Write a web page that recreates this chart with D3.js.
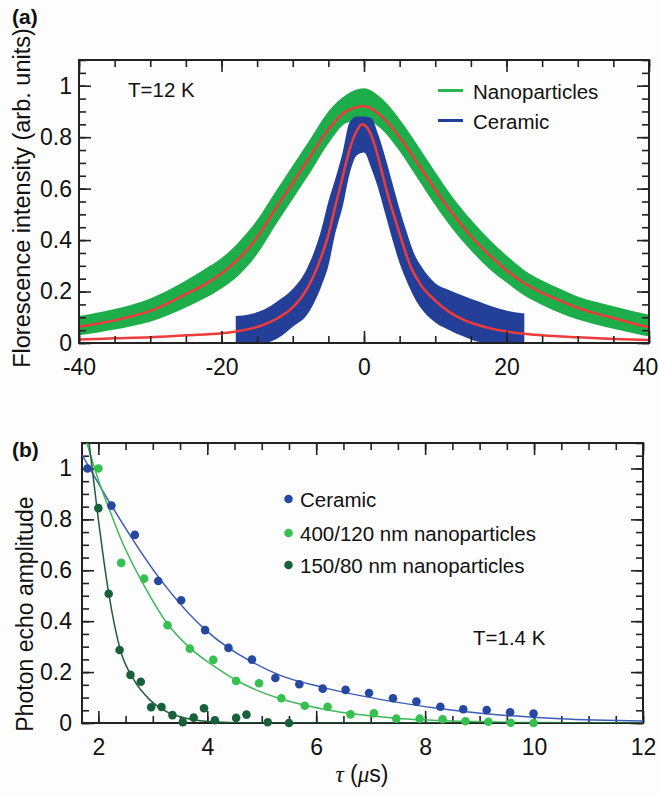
<!DOCTYPE html>
<html>
<head>
<meta charset="utf-8">
<script src="https://cdn.jsdelivr.net/npm/d3@7"></script>
<style>
  body { margin: 0; background: #fdfdfd; }
  svg { display: block; font-family: "Liberation Sans", Arial, sans-serif; }
</style>
</head>
<body>
<div id="chart"></div>
<script>
// ---------- panel (a) : fluorescence spectra ----------
const nanoX    = [-40,-37.5,-35,-32.5,-30,-27.5,-25,-22.5,-20,-17.5,-15,-12.5,-10,-7.5,-5,-2.5,0,2.5,5,7.5,10,12.5,15,17.5,20,22.5,25,27.5,30,32.5,35,37.5,40];
const nanoLow  = [.030,.040,.052,.066,.083,.108,.138,.172,.212,.265,.345,.455,.56,.665,.775,.855,.87,.83,.745,.64,.535,.44,.36,.29,.235,.185,.148,.117,.091,.072,.055,.04,.025];
const nanoHigh = [.105,.118,.132,.150,.173,.205,.243,.285,.33,.395,.478,.585,.69,.795,.90,.965,.99,.95,.87,.77,.665,.565,.48,.405,.34,.283,.243,.211,.181,.16,.143,.125,.11];
const nanoFit  = [.063,.075,.088,.105,.125,.155,.19,.225,.27,.33,.41,.518,.622,.727,.83,.90,.92,.88,.80,.70,.597,.50,.415,.345,.283,.232,.195,.165,.137,.115,.097,.078,.06];

const cerX    = [-18,-16,-14,-12,-10,-8,-6,-5,-4,-3,-2,-1,0,1,2,3,4,5,6,7,8,10,12,14,16,18,20,22.5];
const cerLow  = [0,0,0,.02,.063,.11,.22,.30,.43,.53,.66,.73,.74,.68,.60,.50,.40,.31,.24,.18,.135,.08,.05,.025,.005,0,0,0];
const cerHigh = [.105,.112,.13,.165,.21,.29,.44,.55,.64,.74,.86,.88,.88,.875,.81,.72,.62,.52,.43,.35,.30,.232,.205,.183,.162,.142,.126,.115];

const cerFitX = [-40,-35,-30,-25,-20,-18,-16,-14,-12,-10,-8,-6,-5,-4,-3,-2,-1,-0.3,0.5,1.5,2.5,3.5,4.5,5.5,6.5,8,10,12,14,16,18,20,25,30,35,40];
const cerFitY = [.014,.018,.022,.03,.038,.045,.055,.072,.098,.138,.21,.335,.42,.535,.645,.755,.825,.85,.835,.77,.665,.56,.47,.38,.30,.225,.165,.12,.09,.07,.055,.045,.03,.022,.016,.012];

const xTicksA = [-40,-20,0,20,40];
const yTicks  = [0,0.2,0.4,0.6,0.8,1];

// ---------- panel (b) : photon echo decay ----------
const cerTau  = [1.8,2.24,2.67,3.1,3.52,3.96,4.39,4.82,5.25,5.69,6.12,6.54,6.97,7.41,7.84,8.28,8.70,9.13,9.56,9.99];
const cerAmp  = [1.0,.854,.739,.558,.482,.365,.295,.249,.177,.152,.135,.130,.118,.097,.084,.064,.054,.051,.042,.037];
const n400Tau = [2.0,2.42,2.84,3.27,3.68,4.11,4.53,4.95,5.36,5.79,6.21,6.63,7.06,7.47,7.90,8.32,8.74,9.16,9.57,9.99];
const n400Amp = [1.0,.629,.567,.384,.292,.248,.165,.156,.097,.068,.064,.034,.038,.017,.017,.015,.007,.005,.001,0];
const n150Tau = [2.0,2.19,2.39,2.59,2.78,2.97,3.16,3.36,3.55,3.75,3.94,4.14,4.53,4.72,5.11,5.50];
const n150Amp = [.844,.508,.287,.189,.162,.062,.063,.031,.003,.021,.058,.011,.020,.033,.003,0];

const cerFitTau  = [1.7,2.24,3.1,3.96,4.39,4.82,5.34,6.12,7.41,8.7,10.48,12];
const cerFitAmp  = [1.054,.855,.575,.367,.295,.24,.187,.14,.084,.045,.017,.008];
const n400FitTau = [1.79,2.0,2.2,2.42,2.84,3.27,3.68,4.11,4.53,4.95,5.36,6.21,7.47,8.7,10,12];
const n400FitAmp = [1.1,.955,.84,.72,.54,.39,.295,.225,.168,.125,.094,.051,.019,.007,.002,0];
const n150FitTau = [1.83,2.0,2.19,2.4,2.65,2.95,3.26,3.63,4.18,5,12];
const n150FitAmp = [1.1,.80,.51,.29,.17,.09,.044,.018,.004,0,0];

const xTicksB = [2,4,6,8,10,12];

const W = 660, H = 795;
const svg = d3.select("#chart").append("svg").attr("width", W).attr("height", H);
svg.append("rect").attr("width", W).attr("height", H).attr("fill", "#fdfdfd");

const defs = svg.append("defs");

// ticks on all four sides, pointing inward
function drawFrame(x, y, xMajor, xMinor, yMajor, yMinor, yPad, id) {
  const [x0, x1] = x.range();
  const [yb, yt] = y.range();
  const g = svg.append("g").attr("class", "axes");

  const bottom = g.append("g").attr("transform", `translate(0,${yb})`);
  bottom.append("g").call(d3.axisBottom(x).tickValues(xMinor).tickSize(-7).tickFormat(""));
  bottom.append("g").attr("class", "xlab")
    .call(d3.axisBottom(x).tickValues(xMajor).tickSize(-12).tickPadding(16).tickFormat(d => String(d)));

  const top = g.append("g").attr("transform", `translate(0,${yt})`);
  top.append("g").call(d3.axisTop(x).tickValues(xMinor).tickSize(-7).tickFormat(""));
  top.append("g").call(d3.axisTop(x).tickValues(xMajor).tickSize(-12).tickFormat(""));

  const left = g.append("g").attr("transform", `translate(${x0},0)`);
  left.append("g").call(d3.axisLeft(y).tickValues(yMinor).tickSize(-7).tickFormat(""));
  left.append("g").call(d3.axisLeft(y).tickValues(yMajor).tickSize(-12).tickPadding(yPad).tickFormat(d => String(d)));

  const right = g.append("g").attr("transform", `translate(${x1},0)`);
  right.append("g").call(d3.axisRight(y).tickValues(yMinor).tickSize(-7).tickFormat(""));
  right.append("g").call(d3.axisRight(y).tickValues(yMajor).tickSize(-12).tickFormat(""));

  g.selectAll(".domain").remove();
  g.selectAll(".tick line").attr("stroke", "#222").attr("stroke-width", 1.6);
  g.selectAll(".tick text").attr("fill", "#111").style("font-size", "23px")
    .style("font-family", "'Liberation Sans', Arial, sans-serif");

  g.append("rect")
    .attr("x", x0).attr("y", yt).attr("width", x1 - x0).attr("height", yb - yt)
    .attr("fill", "none").attr("stroke", "#222").attr("stroke-width", 2);

  defs.append("clipPath").attr("id", id).append("rect")
    .attr("x", x0).attr("y", yt).attr("width", x1 - x0).attr("height", yb - yt);
  return g;
}

// ---------- draw (a) ----------
const xa = d3.scaleLinear().domain([-40, 40]).range([79, 649]);
const ya = d3.scaleLinear().domain([0, 1.1]).range([343, 60]);

const plotA = svg.append("g");

const band = d3.area()
  .x(d => xa(d.x)).y0(d => ya(d.lo)).y1(d => ya(d.hi))
  .curve(d3.curveMonotoneX);

plotA.append("path")
  .datum(nanoX.map((x, i) => ({x, lo: nanoLow[i], hi: nanoHigh[i]})))
  .attr("d", band).attr("fill", "#1dae4b");

plotA.append("path")
  .datum(cerX.map((x, i) => ({x, lo: cerLow[i], hi: cerHigh[i]})))
  .attr("d", band).attr("fill", "#233f97");

const fitLineA = d3.line().x(d => xa(d[0])).y(d => ya(d[1])).curve(d3.curveMonotoneX);

plotA.append("path")
  .datum(nanoX.map((x, i) => [x, nanoFit[i]]))
  .attr("d", fitLineA).attr("fill", "none").attr("stroke", "#ef3b3b").attr("stroke-width", 2.5);

plotA.append("path")
  .datum(cerFitX.map((x, i) => [x, cerFitY[i]]))
  .attr("d", fitLineA).attr("fill", "none").attr("stroke", "#ef3b3b").attr("stroke-width", 2.5);

const axesA = drawFrame(xa, ya, xTicksA, d3.range(-40, 40.1, 5), yTicks, d3.range(0, 1.11, 0.05), 7, "clipA");
// the last label sits at the page edge, as in the original
axesA.selectAll(".xlab .tick text").filter(d => d === 40).attr("dx", -4);

// legend (a)
const legA = [
  {name: "Nanoparticles", color: "#2bb54e", y: 90.5},
  {name: "Ceramic", color: "#233f97", y: 120.5}
];
legA.forEach(d => {
  svg.append("line").attr("x1", 438).attr("x2", 463).attr("y1", d.y).attr("y2", d.y)
    .attr("stroke", d.color).attr("stroke-width", 3);
  svg.append("text").attr("x", 473).attr("y", d.y + 8).style("font-size", "20.5px")
    .attr("fill", "#111").text(d.name);
});

svg.append("text").attr("x", 128).attr("y", 97).style("font-size", "20.5px").attr("fill", "#111").text("T=12 K");

svg.append("text")
  .attr("transform", "translate(30,198) rotate(-90)")
  .attr("text-anchor", "middle").style("font-size", "23.5px").attr("fill", "#111")
  .text("Florescence intensity (arb. units)");

svg.append("text").attr("x", 12).attr("y", 24).style("font-size", "21px")
  .style("font-weight", "bold").attr("fill", "#111").text("(a)");

// ---------- draw (b) ----------
const xb = d3.scaleLinear().domain([1.7, 12]).range([82, 643]);
const yb = d3.scaleLinear().domain([0, 1.1]).range([723, 443]);

drawFrame(xb, yb, xTicksB, d3.range(2, 12.01, 0.5), yTicks, d3.range(0, 1.11, 0.05), 10, "clipB");

const plotB = svg.append("g").attr("clip-path", "url(#clipB)");
const fitLineB = d3.line().x(d => xb(d[0])).y(d => yb(d[1])).curve(d3.curveMonotoneX);

const seriesB = [
  {tau: cerTau, amp: cerAmp, ft: cerFitTau, fa: cerFitAmp, dot: "#2748a0", line: "#3d5cb8"},
  {tau: n400Tau, amp: n400Amp, ft: n400FitTau, fa: n400FitAmp, dot: "#35c04f", line: "#3cb95a"},
  {tau: n150Tau, amp: n150Amp, ft: n150FitTau, fa: n150FitAmp, dot: "#17603a", line: "#1f5e38"}
];

seriesB.forEach(s => {
  plotB.append("path")
    .datum(s.ft.map((t, i) => [t, s.fa[i]]))
    .attr("d", fitLineB).attr("fill", "none").attr("stroke", s.line).attr("stroke-width", 1.5);
});
seriesB.forEach(s => {
  svg.append("g").selectAll("circle")
    .data(s.tau.map((t, i) => [t, s.amp[i]]))
    .enter().append("circle")
    .attr("cx", d => xb(d[0])).attr("cy", d => yb(d[1])).attr("r", 4.3)
    .attr("fill", s.dot);
});

// legend (b)
const legB = [
  {name: "Ceramic", color: "#2748a0", y: 499},
  {name: "400/120 nm nanoparticles", color: "#35c04f", y: 533},
  {name: "150/80 nm nanoparticles", color: "#17603a", y: 565}
];
legB.forEach(d => {
  svg.append("circle").attr("cx", 288.5).attr("cy", d.y).attr("r", 4.3).attr("fill", d.color);
  svg.append("text").attr("x", 300).attr("y", d.y + 7.5).style("font-size", "20.5px")
    .attr("fill", "#111").text(d.name);
});

svg.append("text").attr("x", 473).attr("y", 645).style("font-size", "20.5px").attr("fill", "#111").text("T=1.4 K");

svg.append("text")
  .attr("transform", "translate(33,614) rotate(-90)")
  .attr("text-anchor", "middle").style("font-size", "23px").attr("fill", "#111")
  .text("Photon echo amplitude");

const xt = svg.append("text").attr("x", 362).attr("y", 782).attr("text-anchor", "middle")
  .style("font-size", "23px").attr("fill", "#111");
xt.append("tspan").style("font-family", "'Liberation Serif', serif").style("font-style", "italic").text("τ");
xt.append("tspan").text(" (");
xt.append("tspan").style("font-family", "'Liberation Serif', serif").style("font-style", "italic").text("μ");
xt.append("tspan").text("s)");

svg.append("text").attr("x", 12).attr("y", 457).style("font-size", "21px")
  .style("font-weight", "bold").attr("fill", "#111").text("(b)");
</script>
</body>
</html>
